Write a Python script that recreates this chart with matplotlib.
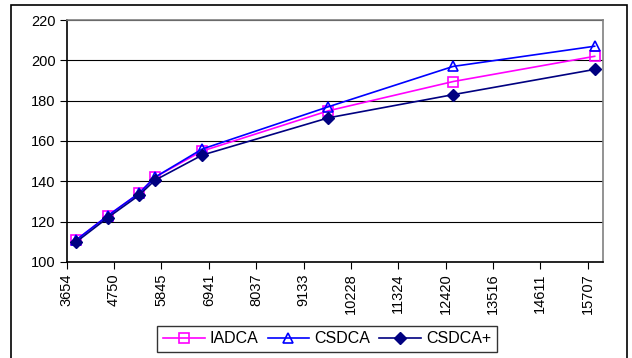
import matplotlib
matplotlib.use('Agg')
import matplotlib.pyplot as plt
from matplotlib.patches import Rectangle

plt.rcParams['font.family'] = ['Liberation Sans', 'DejaVu Sans']

# データ
x = [3878, 4607, 5323, 5693, 6787, 9710, 12597, 15868]
iadca = [111, 123, 134, 142, 155, 175, 189.5, 202]
csdca = [111, 123, 134, 142, 156, 177, 197, 207]
csdca_plus = [110, 122, 133, 140.5, 153, 171.5, 183, 195.5]

xticks = [3654, 4750, 5845, 6941, 8037, 9133, 10228, 11324, 12420, 13516, 14611, 15707]
yticks = [100, 120, 140, 160, 180, 200, 220]

fig = plt.figure(figsize=(6.32, 3.58), dpi=100)
ax = fig.add_axes([0.1055, 0.2682, 0.8491, 0.6759])

ax.plot(x, iadca, color='#FF00FF', lw=1.2, marker='s', ms=7.5, mfc='none',
        mec='#FF00FF', mew=1.2, label='IADCA', zorder=3)
ax.plot(x, csdca, color='#0000FF', lw=1.2, marker='^', ms=7.5, mfc='none',
        mec='#0000FF', mew=1.2, label='CSDCA', zorder=4)
ax.plot(x, csdca_plus, color='#000080', lw=1.2, marker='D', ms=6,
        mfc='#000080', mec='#000080', label='CSDCA+', zorder=5)

ax.set_xlim(3654, 16068)
ax.set_ylim(100, 220)
ax.set_xticks(xticks)
ax.set_xticklabels([str(v) for v in xticks], rotation=90)
ax.set_yticks(yticks)
ax.tick_params(axis='both', labelsize=10.5, length=5, width=0.8, color='black', pad=3)
ax.yaxis.grid(True, color='black', lw=0.8)
ax.set_axisbelow(True)

ax.spines['left'].set_color('black')
ax.spines['bottom'].set_color('black')
ax.spines['top'].set_color('#808080')
ax.spines['right'].set_color('#808080')
for s in ax.spines.values():
    s.set_linewidth(1.2)

leg = ax.legend(loc='center', bbox_to_anchor=(0.5174, 0.0534),
                bbox_transform=fig.transFigure, ncol=3, fontsize=11.5,
                frameon=True, fancybox=False, edgecolor='black',
                handlelength=2.6, handletextpad=0.3, columnspacing=0.6,
                borderpad=0.35, borderaxespad=0)
leg.get_frame().set_linewidth(1.0)

# 外枠
fig.patches.append(Rectangle((11 / 632, -0.05), 616 / 632, 1 - 5 / 358 + 0.05,
                             transform=fig.transFigure, fill=False,
                             edgecolor='black', lw=1.2, clip_on=False))

fig.savefig('out.png', dpi=100)
